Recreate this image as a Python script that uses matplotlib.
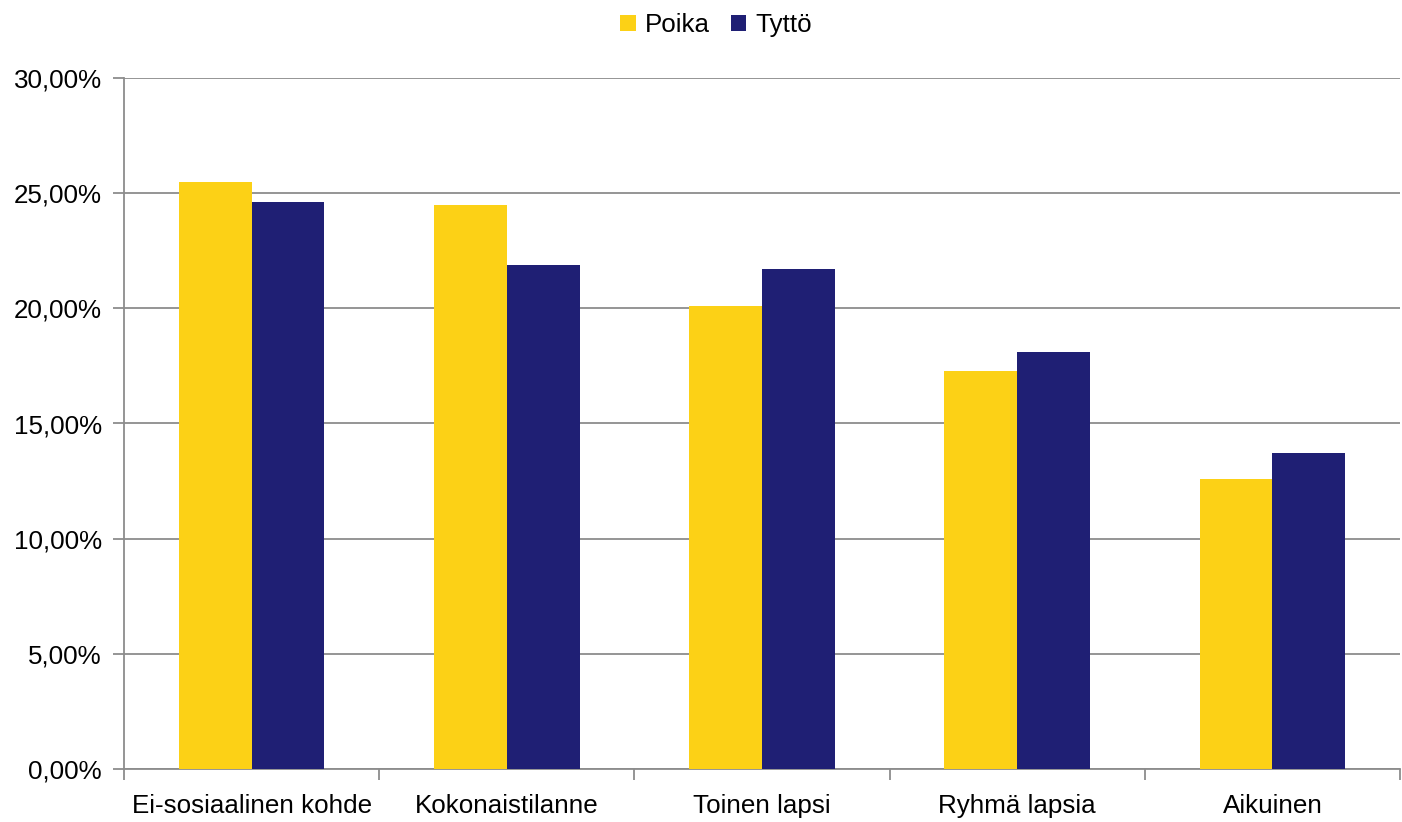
import matplotlib.pyplot as plt
import numpy as np

plt.rcParams['font.family'] = ['Liberation Sans', 'DejaVu Sans']

categories = ['Ei-sosiaalinen kohde', 'Kokonaistilanne', 'Toinen lapsi', 'Ryhmä lapsia', 'Aikuinen']
poika = [25.5, 24.5, 20.1, 17.3, 12.6]
tytto = [24.6, 21.9, 21.7, 18.1, 13.7]
series_names = ['Poika', 'Tyttö']
colors = ['#FCD116', '#1F1F74']

fig = plt.figure(figsize=(14.02, 8.22), dpi=100)
ax = fig.add_axes([124 / 1402, 53 / 822, 1276 / 1402, 691 / 822])

x = np.arange(len(categories))
w = 0.285
ax.bar(x - w / 2, poika, w, color=colors[0], label=series_names[0], zorder=3)
ax.bar(x + w / 2, tytto, w, color=colors[1], label=series_names[1], zorder=3)

ax.set_xlim(-0.5, len(categories) - 0.5)
ax.set_ylim(0, 30)
ax.set_yticks(np.arange(0, 31, 5))
ax.set_yticklabels([f'{v:.2f}%'.replace('.', ',') for v in np.arange(0, 31, 5)])
ax.yaxis.grid(True, color='#8C8C8C', linewidth=1.3, zorder=0)

ax.set_xticks(x)
ax.set_xticklabels(categories)
ax.set_xticks(np.arange(-0.5, len(categories)), minor=True)
ax.tick_params(axis='x', which='major', length=0, pad=18, labelsize=18.7)
ax.tick_params(axis='x', which='minor', length=8, width=1.3, color='#8C8C8C')
ax.tick_params(axis='y', length=8, width=1.3, color='#8C8C8C', pad=8, labelsize=18.7)

for s in ['top', 'right']:
    ax.spines[s].set_visible(False)
for s in ['left', 'bottom']:
    ax.spines[s].set_color('#8C8C8C')
    ax.spines[s].set_linewidth(1.3)

fig.legend(loc='center', bbox_to_anchor=(716 / 1402, 1 - 25 / 822), ncol=2, frameon=False,
           fontsize=18.7, handlelength=0.6, handleheight=0.6, handletextpad=0.35,
           columnspacing=0.8)

fig.savefig('out.png', dpi=100)
